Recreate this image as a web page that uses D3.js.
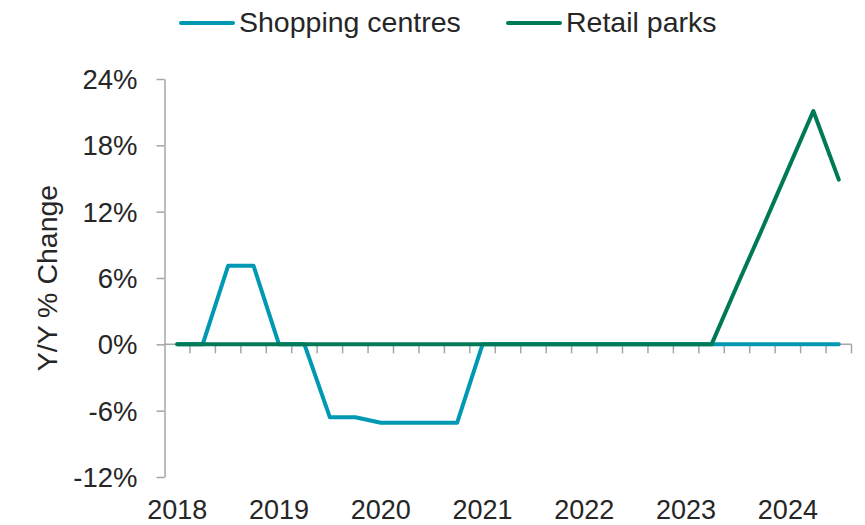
<!DOCTYPE html>
<html>
<head>
<meta charset="utf-8">
<script src="https://cdn.jsdelivr.net/npm/d3@7"></script>
<style>
  body { margin: 0; background: #fff; }
  svg { display: block; font-family: "Liberation Sans", Arial, sans-serif; }
</style>
</head>
<body>
<svg id="chart" width="865" height="525"></svg>
<script>
const quarters = [
  "2018Q1","2018Q2","2018Q3","2018Q4",
  "2019Q1","2019Q2","2019Q3","2019Q4",
  "2020Q1","2020Q2","2020Q3","2020Q4",
  "2021Q1","2021Q2","2021Q3","2021Q4",
  "2022Q1","2022Q2","2022Q3","2022Q4",
  "2023Q1","2023Q2","2023Q3","2023Q4",
  "2024Q1","2024Q2","2024Q3"
];
const shoppingCentres = [0, 0, 7.1, 7.1, 0, 0, -6.6, -6.6, -7.1, -7.1, -7.1, -7.1, 0, 0, 0, 0, 0, 0, 0, 0, 0, 0, 0, 0, 0, 0, 0];
const retailParks = [0, 0, 0, 0, 0, 0, 0, 0, 0, 0, 0, 0, 0, 0, 0, 0, 0, 0, 0, 0, 0, 0, 5.3, 10.5, 15.8, 21.1, 14.9];
const yTicks = [-12, -6, 0, 6, 12, 18, 24];
const yearLabels = ["2018","2019","2020","2021","2022","2023","2024"];
const seriesNames = ["Shopping centres", "Retail parks"];
const colors = ["#0098b3", "#007a56"];

(function () {
const svg = d3.select("#chart");
const pLeft = 164.5, pRight = 851.5, pTop = 79, pBottom = 477;
const textColor = "#262626";
const axisColor = "#a6a6a6";

const x = d3.scaleBand().domain(quarters).range([pLeft, pRight]).padding(0);
const y = d3.scaleLinear().domain([-12, 24]).range([pBottom, pTop]);

// Y axis
const yAxis = d3.axisLeft(y).tickValues(yTicks).tickSize(8).tickSizeOuter(0).tickFormat(d => d + "%");
const gy = svg.append("g").attr("transform", `translate(${pLeft},0)`).call(yAxis);
gy.attr("font-family", null).attr("font-size", null);
gy.select(".domain").attr("stroke", axisColor).attr("stroke-width", 1.5);
gy.selectAll(".tick line").attr("stroke", axisColor).attr("stroke-width", 1.5);
gy.selectAll(".tick text").attr("fill", textColor).style("font-size", "27.5px")
  .attr("x", -27).attr("dy", "0.35em");

// X axis at zero line, ticks between categories
const gx = svg.append("g").attr("transform", `translate(0,${y(0)})`);
gx.append("line").attr("x1", pLeft).attr("x2", pRight).attr("stroke", axisColor).attr("stroke-width", 1.5);
gx.selectAll(".xt").data(quarters).enter().append("line")
  .attr("x1", q => x(q) + x.bandwidth()).attr("x2", q => x(q) + x.bandwidth())
  .attr("y1", 0).attr("y2", 9).attr("stroke", axisColor).attr("stroke-width", 1.5);

// Year labels at Q1 of each year
svg.append("g").selectAll("text").data(yearLabels).enter().append("text")
  .attr("x", d => x(d + "Q1") + x.bandwidth() / 2)
  .attr("y", 518.5)
  .attr("text-anchor", "middle")
  .attr("fill", textColor)
  .style("font-size", "27px")
  .text(d => d);

// Y title
svg.append("text")
  .attr("transform", `translate(57,278) rotate(-90)`)
  .attr("text-anchor", "middle")
  .attr("fill", textColor)
  .style("font-size", "28.5px")
  .text("Y/Y % Change");

// Lines
const line = d3.line()
  .x((d, i) => x(quarters[i]) + x.bandwidth() / 2)
  .y(d => y(d));
[shoppingCentres, retailParks].forEach((s, k) => {
  svg.append("path").datum(s)
    .attr("d", line)
    .attr("fill", "none")
    .attr("stroke", colors[k])
    .attr("stroke-width", 4)
    .attr("stroke-linejoin", "round")
    .attr("stroke-linecap", "round");
});

// Legend
const legendX = [181, 508];
seriesNames.forEach((n, k) => {
  const g = svg.append("g");
  g.append("line").attr("x1", legendX[k]).attr("x2", legendX[k] + 52)
    .attr("y1", 23).attr("y2", 23)
    .attr("stroke", colors[k]).attr("stroke-width", 4).attr("stroke-linecap", "round");
  g.append("text").attr("x", legendX[k] + 58).attr("y", 32)
    .attr("fill", textColor).style("font-size", "28.5px").text(n);
});
})();
</script>
</body>
</html>
